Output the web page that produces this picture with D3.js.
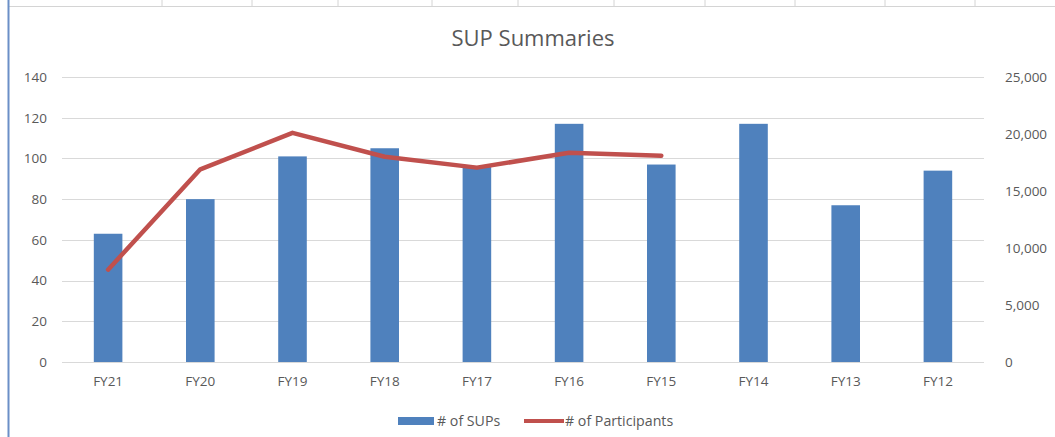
<!DOCTYPE html>
<html>
<head>
<meta charset="utf-8">
<script src="https://cdn.jsdelivr.net/npm/d3@7"></script>
<style>
  body { margin: 0; background: #fff; }
  text { font-family: "Open Sans", "Liberation Sans", Arial, sans-serif; fill: #595959; }
</style>
</head>
<body>
<div id="chart"></div>
<script>
// chart data
var years = ['FY21', 'FY20', 'FY19', 'FY18', 'FY17', 'FY16', 'FY15', 'FY14', 'FY13', 'FY12'];
var sups = [63, 80, 101, 105, 96, 117, 97, 117, 77, 94];
var participants = [8100, 16900, 20100, 18000, 17050, 18350, 18100, null, null, null];
var leftTicks = [0, 20, 40, 60, 80, 100, 120, 140];
var rightTicks = [0, 5000, 10000, 15000, 20000, 25000];
var sheetCols = [162, 252, 338, 432, 518, 614, 705, 795, 885, 975];

var W = 1055, H = 437;
var barColor = '#4F81BD', lineColor = '#C0504D', gridColor = '#d9d9d9';
var plot = { left: 62, right: 984, top: 77, bottom: 362 };

var svg = d3.select('#chart').append('svg')
    .attr('width', W).attr('height', H);

// spreadsheet cells behind the chart
svg.selectAll('line.cell').data(sheetCols).enter().append('line')
    .attr('x1', function (d) { return d; }).attr('x2', function (d) { return d; })
    .attr('y1', 0).attr('y2', 6)
    .attr('stroke', '#d4d4d4');
svg.append('line').attr('x1', 8).attr('x2', W).attr('y1', 6.5).attr('y2', 6.5)
    .attr('stroke', '#d4d4d4');
svg.append('line').attr('x1', 8.5).attr('x2', 8.5).attr('y1', 0).attr('y2', H)
    .attr('stroke', '#6b8fc7').attr('stroke-width', 2);

var x = d3.scaleBand().domain(years).range([plot.left, plot.right]);
var yL = d3.scaleLinear().domain([0, 140]).range([plot.bottom, plot.top]);
var yR = d3.scaleLinear().domain([0, 25000]).range([plot.bottom, plot.top]);

// gridlines
svg.append('g').selectAll('line').data(leftTicks).enter().append('line')
    .attr('x1', plot.left).attr('x2', plot.right)
    .attr('y1', function (d) { return Math.round(yL(d)) + 0.5; })
    .attr('y2', function (d) { return Math.round(yL(d)) + 0.5; })
    .attr('stroke', gridColor).attr('stroke-width', 1);

// left axis
var axL = svg.append('g').attr('transform', 'translate(' + (plot.left - 15) + ',0)')
    .call(d3.axisLeft(yL).tickValues(leftTicks).tickSize(0).tickPadding(0));
axL.select('.domain').remove();
axL.selectAll('text').style('font-size', '13.5px').attr('fill', '#595959');

// right axis
var axR = svg.append('g').attr('transform', 'translate(' + (plot.right + 21) + ',0)')
    .call(d3.axisRight(yR).tickValues(rightTicks).tickSize(0).tickPadding(0)
        .tickFormat(d3.format(',')));
axR.select('.domain').remove();
axR.selectAll('text').style('font-size', '13.5px').attr('fill', '#595959');

// bottom axis
var axB = svg.append('g').attr('transform', 'translate(0,' + (plot.bottom + 14) + ')')
    .call(d3.axisBottom(x).tickSize(0).tickPadding(0));
axB.select('.domain').remove();
axB.selectAll('text').style('font-size', '13.5px').attr('fill', '#595959');

// bars
var bw = x.bandwidth() * 0.31;
svg.append('g').selectAll('rect').data(years).enter().append('rect')
    .attr('x', function (d) { return x(d) + x.bandwidth() / 2 - bw / 2; })
    .attr('y', function (d, i) { return yL(sups[i]); })
    .attr('width', bw)
    .attr('height', function (d, i) { return plot.bottom - yL(sups[i]); })
    .attr('fill', barColor);

// participants line
var line = d3.line()
    .defined(function (d) { return d.v != null; })
    .x(function (d) { return x(d.k) + x.bandwidth() / 2; })
    .y(function (d) { return yR(d.v); });
svg.append('path')
    .datum(years.map(function (k, i) { return { k: k, v: participants[i] }; }))
    .attr('d', line)
    .attr('fill', 'none')
    .attr('stroke', lineColor)
    .attr('stroke-width', 4.5)
    .attr('stroke-linejoin', 'round')
    .attr('stroke-linecap', 'round');

// title
svg.append('text')
    .attr('x', 533).attr('y', 46)
    .attr('text-anchor', 'middle')
    .style('font-size', '22px')
    .text('SUP Summaries');

// legend
var lg = svg.append('g');
lg.append('rect').attr('x', 398).attr('y', 417).attr('width', 36).attr('height', 8)
    .attr('fill', barColor);
lg.append('text').attr('x', 437).attr('y', 426).style('font-size', '14.2px').text('# of SUPs');
lg.append('line').attr('x1', 524).attr('x2', 564).attr('y1', 421).attr('y2', 421)
    .attr('stroke', lineColor).attr('stroke-width', 4);
lg.append('text').attr('x', 565).attr('y', 426).style('font-size', '14.2px').text('# of Participants');
</script>
</body>
</html>
